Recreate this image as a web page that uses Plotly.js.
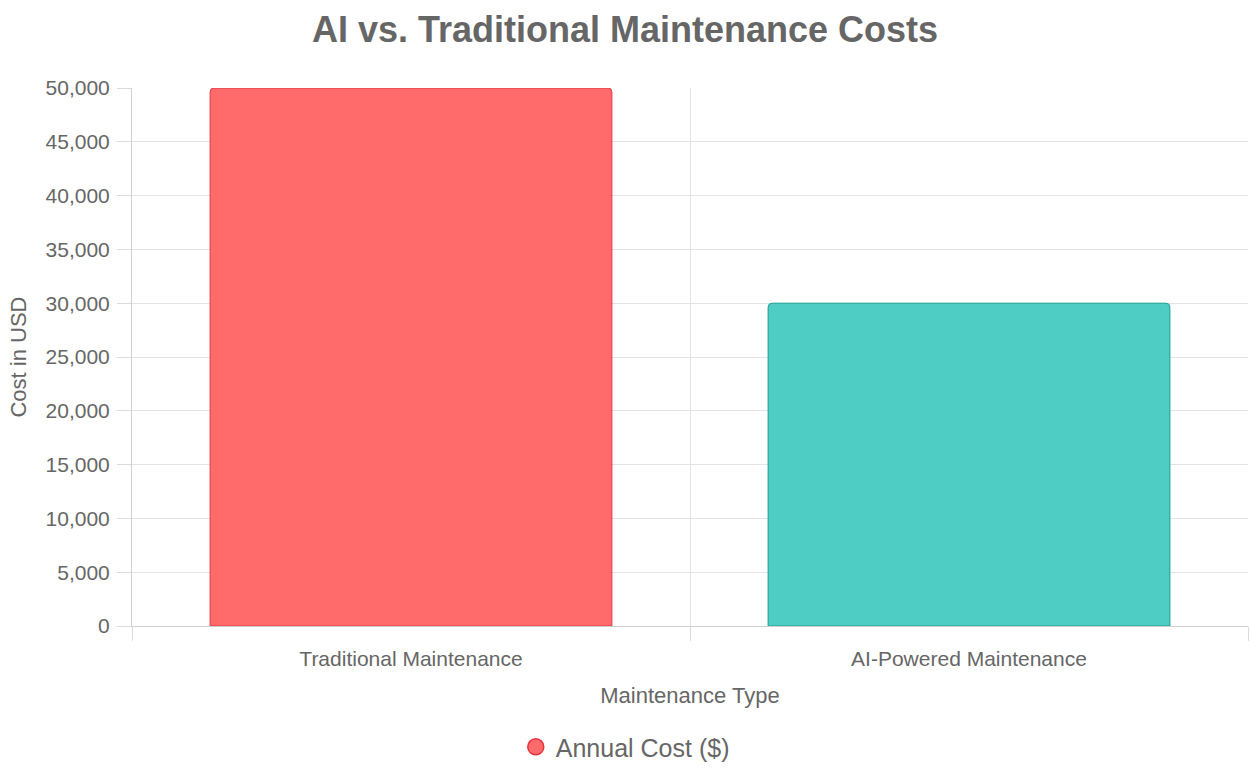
<!DOCTYPE html>
<html>
<head>
<meta charset="utf-8">
<script src="https://cdn.plot.ly/plotly-3.0.1.min.js"></script>
<style>
  html, body { margin: 0; padding: 0; background: #fff; }
  #chart { width: 1250px; height: 779px; }
</style>
</head>
<body>
<div id="chart"></div>
<script>
    // values
    let categories = ['Traditional Maintenance', 'AI-Powered Maintenance'];
    let annualCost = [50000, 30000];
    let fillColors = ['#ff6b6b', '#4ecdc4'];
    let lineColors = ['#e8343f', '#1a9e8c'];
    let seriesName = 'Annual Cost ($)';
    let yTicks = [0, 5000, 10000, 15000, 20000, 25000, 30000, 35000, 40000, 45000, 50000];

    let font = 'Liberation Sans, Arial, sans-serif';

    let bars = {
        type: 'bar',
        x: categories,
        y: annualCost,
        name: seriesName,
        showlegend: false,
        hoverinfo: 'x+y',
        marker: {
            color: fillColors,
            line: {color: lineColors, width: 1},
            cornerradius: 4
        }
    };

    // legend entry only (chart.js style round swatch)
    let legendKey = {
        type: 'scatter',
        mode: 'markers',
        x: [null],
        y: [null],
        name: seriesName,
        showlegend: true,
        marker: {
            symbol: 'circle',
            size: 20,
            color: fillColors[0],
            line: {color: lineColors[0], width: 1.5}
        }
    };

    let layout = {
        width: 1250,
        height: 779,
        paper_bgcolor: '#fff',
        plot_bgcolor: '#fff',
        font: {family: font, color: '#666', size: 21},
        margin: {l: 132, r: 2, t: 88, b: 153},
        title: {
            text: '<b>AI vs. Traditional Maintenance Costs</b>',
            font: {family: font, size: 36, color: '#666'},
            x: 0.5,
            xanchor: 'center',
            y: 0.962,
            yanchor: 'middle'
        },
        bargap: 0.28,
        xaxis: {
            type: 'category',
            tickson: 'boundaries',
            ticks: 'outside',
            ticklen: 14,
            tickcolor: '#dcdcdc',
            ticklabelstandoff: 14,
            showgrid: true,
            gridcolor: '#e3e3e3',
            showline: true,
            linecolor: '#cfcfcf',
            linewidth: 1,
            tickfont: {family: font, size: 21, color: '#666'},
            title: {
                text: 'Maintenance Type',
                font: {family: font, size: 22, color: '#666'},
                standoff: 18
            },
            fixedrange: true
        },
        yaxis: {
            range: [0, 50000],
            tickvals: yTicks,
            tickformat: ',d',
            ticks: 'outside',
            ticklen: 14,
            tickcolor: '#dcdcdc',
            ticklabelstandoff: 3,
            showgrid: true,
            gridcolor: '#e3e3e3',
            zeroline: false,
            showline: true,
            linecolor: '#cfcfcf',
            tickfont: {family: font, size: 21, color: '#666'},
            title: {
                text: 'Cost in USD',
                font: {family: font, size: 22, color: '#666'},
                standoff: 12
            },
            fixedrange: true
        },
        legend: {
            orientation: 'h',
            x: 0.442,
            xanchor: 'center',
            y: -0.225,
            yanchor: 'middle',
            font: {family: font, size: 25, color: '#666'}
        }
    };

    Plotly.newPlot('chart', [bars, legendKey], layout, {displayModeBar: false, responsive: false});
</script>
</body>
</html>
